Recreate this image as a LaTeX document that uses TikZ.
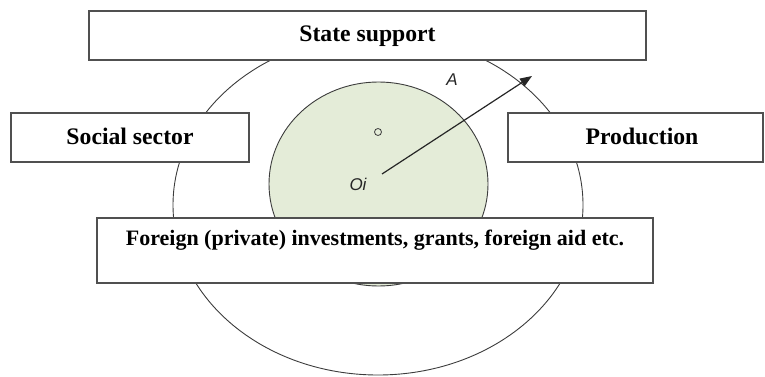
\documentclass[tikz,border=0pt]{standalone}
\usepackage{fontspec}
\setmainfont{Liberation Serif}
\newfontfamily\labelfont{Liberation Sans}
\usetikzlibrary{shapes.geometric,arrows.meta}
\definecolor{boxline}{HTML}{505050}
\definecolor{ringline}{HTML}{3C3C3C}
\definecolor{corefill}{HTML}{E4ECD8}
\tikzset{
  infobox/.style={draw=boxline, fill=white, line width=1.4pt, rectangle, inner sep=0pt,
    font=\fontsize{23.7}{28}\selectfont\bfseries, text height=16.5pt, text depth=3.5pt},
  widebox/.style={infobox, font=\fontsize{22}{26}\selectfont\bfseries, text height=15pt, text depth=26pt},
  ring/.style={draw=ringline, line width=0.9pt, ellipse, inner sep=0pt},
  pointlabel/.style={font=\labelfont\itshape\fontsize{17}{20}\selectfont, text=black!85, inner sep=0pt},
  radius arrow/.style={draw=black!85, line width=1.2pt, -{Triangle[length=12pt,width=9pt]}}
}
\begin{document}
\begin{tikzpicture}[x=1pt,y=-1pt]
\useasboundingbox (0,0) rectangle (765,377);
% outer ring
\node[ring, minimum width=410pt, minimum height=340pt] (outer) at (378,205) {};
% inner core
\node[ring, fill=corefill, minimum width=219pt, minimum height=204pt] (core) at (378.5,184) {};
% boxes
\node[infobox, minimum width=557pt, minimum height=49pt] (state) at (367.5,35.5) {State support};
\node[infobox, minimum width=238pt, minimum height=49pt] (social) at (130,137.5) {Social sector};
\node[infobox, minimum width=255pt, minimum height=49pt] (prod) at (635.5,137.5) {\hspace*{13pt}Production};
\node[widebox, minimum width=556pt, minimum height=65pt] (foreign) at (375,250.5) {Foreign (private) investments, grants, foreign aid etc.};
% centre marker
\node[draw=ringline, line width=0.8pt, circle, minimum size=7pt, inner sep=0pt] (centre) at (378,132) {};
% radius arrow
\coordinate (oi) at (382,174);
\coordinate (tip) at (532,76);
\draw[radius arrow] (oi) -- (tip);
\node[pointlabel] (labA) at (452,80) {A};
\node[pointlabel] (labOi) at (358,184) {Oi};
\end{tikzpicture}
\end{document}
